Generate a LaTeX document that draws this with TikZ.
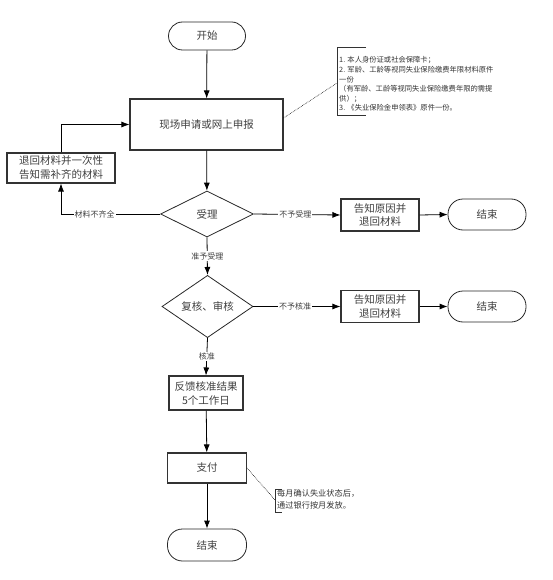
\documentclass[tikz,border=0pt]{standalone}
\usepackage{fontspec}
\setmainfont{Noto Sans CJK SC}
\usetikzlibrary{shapes.geometric,arrows.meta}
\tikzset{
  every node/.style={font=\fontsize{10.5}{13}\selectfont, text=black!75},
  boxnode/.style={draw=black!80, line width=1.1pt, rectangle, align=center, inner sep=1pt},
  termnode/.style={draw=black!85, line width=0.8pt, rectangle, rounded corners=14pt, align=center},
  decnode/.style={draw=black!85, line width=0.8pt, diamond, inner sep=0pt, align=center},
  flow/.style={draw=black, line width=0.8pt, -{Latex[length=8pt,width=6pt]}},
  elabel/.style={fill=white, inner sep=1pt, font=\fontsize{8}{9}\selectfont},
  dotline/.style={draw=black, line width=0.6pt, densely dotted},
  bracket/.style={draw=black!80, line width=0.8pt},
  notetext/.style={align=left, inner sep=0pt, text=black!80}
}
\begin{document}
\begin{tikzpicture}[x=1pt, y=-1pt]
\useasboundingbox (0,0) rectangle (552,580);

\node[termnode, minimum width=77pt, minimum height=28pt] (start) at (207,36) {开始};
\node[boxnode, minimum width=153pt, minimum height=51pt] (apply) at (206.5,124.5) {现场申请或网上申报};
\node[decnode, minimum width=93pt, minimum height=46pt] (accept) at (207,214) {受理};
\node[boxnode, minimum width=108pt, minimum height=30pt, font=\fontsize{10.5}{14}\selectfont] (ret) at (61,168) {退回材料并一次性\\告知需补齐的材料};
\node[boxnode, minimum width=78pt, minimum height=32pt, font=\fontsize{10.5}{13.5}\selectfont] (rej1) at (380,215) {告知原因并\\退回材料};
\node[termnode, minimum width=78pt, minimum height=31pt, rounded corners=15pt] (end1) at (487,214.5) {结束};
\node[decnode, minimum width=91pt, minimum height=47pt] (review) at (207.5,306.5) {复核、审核};
\node[boxnode, minimum width=78pt, minimum height=32pt, font=\fontsize{10.5}{13.5}\selectfont] (rej2) at (380,306.5) {告知原因并\\退回材料};
\node[termnode, minimum width=78pt, minimum height=31pt, rounded corners=15pt] (end2) at (487,306.5) {结束};
\node[boxnode, minimum width=74pt, minimum height=34pt, font=\fontsize{10.5}{14}\selectfont] (feed) at (206,393) {反馈核准结果\\5个工作日};
\node[boxnode, minimum width=79pt, minimum height=30pt] (pay) at (207,468) {支付};
\node[termnode, minimum width=79pt, minimum height=32pt, rounded corners=15pt] (end3) at (207,545) {结束};

% connectors
\draw[flow] (start) -- (apply);
\draw[flow] (apply) -- (accept);
\draw[flow] (accept.west) -| node[elabel, pos=0.33] {材料不齐全} (ret.south);
\draw[flow] (ret.north) |- (apply.west);
\draw[flow] (accept.east) -- node[elabel, pos=0.48] {不予受理} (rej1.west);
\draw[flow] (rej1.east) -- (end1.west);
\draw[flow] (accept.south) -- node[elabel] {准予受理} (review.north);
\draw[flow] (review.east) -- node[elabel, pos=0.48] {不予核准} (rej2.west);
\draw[flow] (rej2.east) -- (end2.west);
\draw[flow] (review.south) -- node[elabel] {核准} (feed.north);
\draw[flow] (feed) -- (pay);
\draw[flow] (pay) -- (end3);

% note 1
\coordinate (n1a) at (366,47);
\coordinate (n1b) at (337,47);
\coordinate (n1c) at (337,115);
\coordinate (n1d) at (366,115);
\coordinate (n1m) at (337,83);
\coordinate (d1y) at (0,118);
\draw[bracket] (n1a) -- (n1b) -- (n1c) -- (n1d);
\node[notetext, anchor=north west, font=\fontsize{7.3}{9.6}\selectfont] (note1) at (339,56.5) {1. 本人身份证或社会保障卡；\\2. 军龄、工龄等视同失业保险缴费年限材料原件\\一份\\（有军龄、工龄等视同失业保险缴费年限的需提\\供）；\\3. 《失业保险金申领表》原件一份。};
\draw[dotline] (apply.east |- d1y) -- (n1m);

% note 2
\coordinate (n2a) at (282,489);
\coordinate (n2b) at (275,489);
\coordinate (n2c) at (275,512);
\coordinate (n2d) at (282,512);
\coordinate (n2m) at (275,500);
\draw[bracket] (n2a) -- (n2b) -- (n2c) -- (n2d);
\node[notetext, anchor=north west, font=\fontsize{8.2}{12}\selectfont] (note2) at (277,489) {每月确认失业状态后，\\通过银行按月发放。};
\draw[dotline] (pay.east) -- (n2m);

\end{tikzpicture}
\end{document}
